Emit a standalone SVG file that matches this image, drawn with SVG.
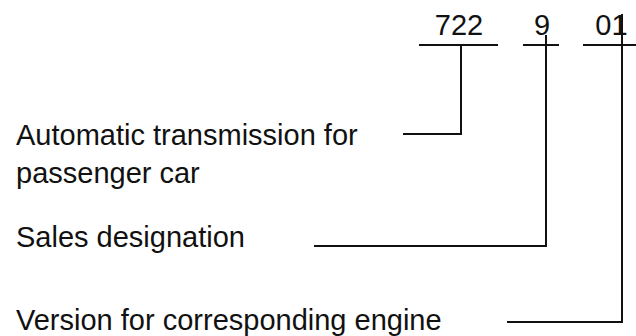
<svg xmlns="http://www.w3.org/2000/svg" width="636" height="336" viewBox="0 0 636 336">
<style>
text{font-family:"Liberation Sans",Arial,sans-serif;font-size:29px;fill:#111}
.ln{stroke:#111;stroke-width:2;fill:none}
</style>
<rect width="636" height="336" fill="#fff"/>
<g id="code">
<text x="459" y="35" text-anchor="middle">722</text>
<text x="542" y="35" text-anchor="middle">9</text>
<text x="611.5" y="35" text-anchor="middle">01</text>
<path class="ln" d="M419 45H498M523 45H559M583 45H636"/>
</g>
<g id="label-transmission">
<text x="16" y="145">Automatic transmission for</text>
<text x="16" y="183">passenger car</text>
</g>
<g id="label-sales">
<text x="16" y="247">Sales designation</text>
</g>
<g id="label-version">
<text x="16" y="330">Version for corresponding engine</text>
</g>
<g id="connectors">
<path class="ln" d="M461 45V134H403"/>
<path class="ln" d="M546 35V246H314"/>
<path class="ln" d="M622 14V322H507"/>
</g>
</svg>
